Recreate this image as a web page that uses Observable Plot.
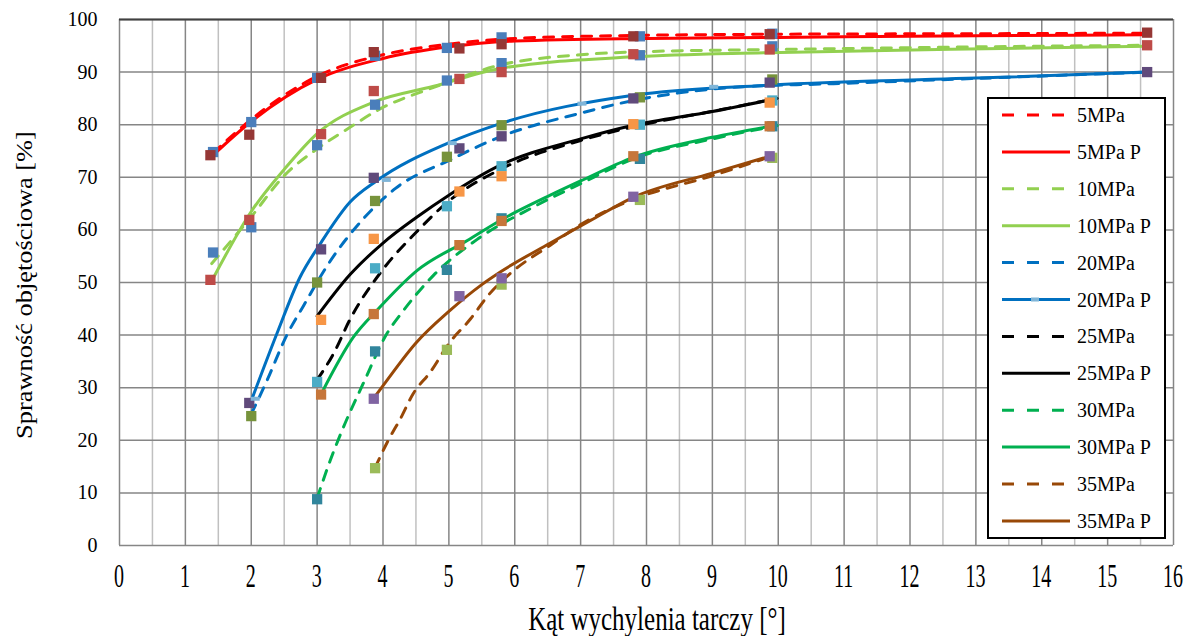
<!DOCTYPE html>
<html><head><meta charset="utf-8">
<script src="https://cdn.jsdelivr.net/npm/d3@7"></script>
<script src="https://cdn.jsdelivr.net/npm/@observablehq/plot@0.6"></script>
<style>
body{margin:0;background:#fff;}
#wrap{position:relative;width:1186px;height:636px;overflow:hidden;}
#legend{position:absolute;left:987px;top:97px;width:175px;height:438px;border:2px solid #000;background:#fff;}
</style></head><body><div id="wrap"></div>
<script>
// ---------- axes ----------
const xTicks = d3.range(0, 17, 1);
const xMinor = d3.range(0.5, 16, 1);
const yTicks = d3.range(0, 101, 10);

// ---------- series ----------
const pressures = ["5MPa", "10MPa", "20MPa", "25MPa", "30MPa", "35MPa"];
const lineColors = ["#FF0000", "#92D050", "#0070C0", "#000000", "#00B050", "#984807"];

// dashed curves (measured)
const curve5 = [[1.42,74.6],[2,81.0],[3,89.2],[4,93.3],[5,95.3],[6,96.4],[8,97.0],[10,97.2],[13,97.3],[15.6,97.4]];
const curve10 = [[1.4,53.6],[2,62.5],[2.5,70.3],[3,75.4],[3.5,79.5],[3.91,82.7],[4.77,87.1],[5.8,91.4],[7,93.3],[8,93.9],[10,94.3],[13,94.8],[15.6,95.1]];
const curve20 = [[2.0,25],[2.24,31.4],[2.54,40],[2.79,45.5],[3.19,53.9],[3.7,62.1],[4.19,67.9],[5.0,73.2],[5.8,77.8],[7.0,82.2],[7.8,84.6],[9.32,87.1],[10.84,87.8],[15.6,90]];
const curve25 = [[3.0,31.5],[3.25,36.5],[3.5,43],[4.0,52.5],[4.5,59.5],[5.0,65.5],[5.78,71.5],[7.0,77],[7.8,79.6],[9.07,82.7],[9.98,85]];
const curve30 = [[3.0,9],[3.2,16.2],[3.4,22.5],[3.7,30.8],[4.06,40.3],[4.3,44.5],[4.77,51.4],[5.43,58.2],[6.29,64.4],[7.0,68.8],[7.8,73.5],[9.0,77.3],[9.98,79.8]];
const curve35 = [[3.88,14.8],[4.08,20],[4.26,24],[4.46,28.9],[4.72,33],[5.0,38.4],[5.33,43.1],[5.6,47.6],[5.93,51.7],[6.54,57.1],[7.0,61],[7.8,65.8],[9.0,70.3],[9.9,74]];

// solid curves ("P")
const curve5P = [[1.42,74.2],[2,80.6],[3,88.6],[4,92.6],[5,94.8],[6,95.9],[8,96.4],[10,96.6],[13,96.9],[15.6,97.1]];
const curve10P = [[1.43,51],[2,63.5],[2.5,71.5],[3,78.3],[3.86,84.3],[4.77,87.3],[5.78,90.7],[7.8,92.9],[9.83,93.7],[13.4,94.5],[15.6,94.9]];
const curve20P = [[2.0,27.5],[2.39,40.3],[2.74,51],[3.05,57.4],[3.5,65.3],[3.9,69.3],[4.97,76.4],[5.78,80.2],[7.8,85.6],[9.83,87.5],[13.37,89],[15.6,90]];
const curve25P = [[3.0,43.6],[3.5,51.5],[4.0,57.5],[4.5,62.3],[5.0,66.6],[5.78,72.3],[7.0,77.3],[7.8,79.9],[9.0,82.5],[9.98,85.0]];
const curve30P = [[3.07,29],[3.55,39.6],[3.93,45],[4.52,52.3],[5.28,58],[5.78,61.8],[6.54,66.6],[7.0,69.3],[7.8,73.8],[9.0,77.6],[9.98,79.9]];
const curve35P = [[3.86,28],[4.06,31.4],[4.5,38.5],[5.0,44.5],[5.5,49.6],[5.78,52],[6.54,57.5],[7.15,61.8],[7.8,66.2],[9.0,70.8],[9.87,74]];

// square markers (two measurement sets per pressure)
const m5A = [[1.42,74.8],[2.0,80.5],[3.0,88.9],[3.88,93.1],[4.97,94.6],[5.8,96.6],[7.9,96.8],[9.91,97.3]];
const m5B = [[1.38,74.2],[1.97,78.1],[3.06,88.9],[3.86,93.8],[5.16,94.5],[5.8,95.3],[7.8,96.8],[9.87,97.2],[15.6,97.5]];
const m10A = [[1.42,55.7],[2.0,60.5],[3.0,76.1],[3.88,83.8],[4.97,88.4],[5.8,91.7],[7.9,93.2],[9.91,94.9]];
const m10B = [[1.38,50.5],[1.97,61.9],[3.06,78.2],[3.86,86.4],[5.16,88.7],[5.8,90.0],[7.8,93.4],[9.87,94.3],[15.6,95.1]];
const m20A = [[2.0,24.6],[3.0,50.0],[3.88,65.5],[4.97,73.9],[5.8,79.9],[7.9,85.2],[9.91,88.6]];
const m20B = [[1.97,27.1],[3.06,56.3],[3.86,69.9],[5.16,75.5],[5.8,77.8],[7.8,85.0],[9.87,88.0],[15.6,90.0]];
const m25A = [[3.0,31.1],[3.88,52.7],[4.97,64.5],[5.8,72.1],[7.9,80.0],[9.91,84.6]];
const m25B = [[3.06,42.9],[3.86,58.3],[5.16,67.3],[5.8,70.2],[7.8,80.1],[9.87,84.2]];
const m30A = [[3.0,8.8],[3.88,36.9],[4.97,52.4],[5.8,62.2],[7.9,73.5],[9.91,79.7]];
const m30B = [[3.06,28.7],[3.86,44.0],[5.16,57.1],[5.8,61.7],[7.8,74.0],[9.87,79.7]];
const m35A = [[3.88,14.7],[4.97,37.2],[5.8,49.6],[7.9,65.7],[9.91,73.7]];
const m35B = [[3.86,27.9],[5.16,47.4],[5.8,50.8],[7.8,66.3],[9.87,74.0]];
const m20P = [[2.06,27.9],[4.05,69.5],[5.05,76.5],[7.02,84.0],[9.02,87.2]];

const markerSets = [m5A, m5B, m10A, m10B, m20A, m20B, m25A, m25B, m30A, m30B, m35A, m35B];
const markerColors = ["#4A7EBB","#953735","#4A7EBB","#BE4B48","#77933C","#604A7B","#4BACC6","#F79646","#31859C","#C6763A","#9BBB59","#8064A2"];

const dashedCurves = [curve5, curve10, curve20, curve25, curve30, curve35];
const solidCurves = [curve5P, curve10P, curve20P, curve25P, curve30P, curve35P];

const FONT = "'Liberation Serif', 'Times New Roman', serif";
const dashSym = {draw(ctx, size) { ctx.rect(-4.5, -2, 9, 4); }};

const lineMarks = [];
pressures.forEach((p, i) => {
  lineMarks.push(Plot.line(dashedCurves[i], {x: d => d[0], y: d => d[1], stroke: lineColors[i], strokeWidth: 3, strokeDasharray: "10,9", strokeLinecap: "round", curve: "monotone-x"}));
  lineMarks.push(Plot.line(solidCurves[i], {x: d => d[0], y: d => d[1], stroke: lineColors[i], strokeWidth: 3, strokeLinecap: "round", curve: "monotone-x"}));
});

const dotMarks = markerSets.map((s, i) => Plot.dot(s, {x: d => d[0], y: d => d[1], symbol: "square", r: 5.8, fill: markerColors[i], stroke: "none"}));

const chart = Plot.plot({
  width: 1186, height: 636,
  marginLeft: 119, marginRight: 13, marginTop: 19, marginBottom: 91,
  x: {domain: [0, 16]},
  y: {domain: [0, 100]},
  style: {fontFamily: FONT, fontSize: "20px", background: "#fff", color: "#000", overflow: "visible"},
  marks: [
    Plot.gridX(xMinor, {stroke: "#C0C0C0", strokeOpacity: 1, strokeWidth: 1.5}),
    Plot.gridX(xTicks, {stroke: "#868686", strokeOpacity: 1, strokeWidth: 1.5}),
    Plot.gridY(yTicks, {stroke: "#868686", strokeOpacity: 1, strokeWidth: 1.5}),
    Plot.ruleY([100], {stroke: "#404040", strokeWidth: 2}),
    Plot.axisY(yTicks, {tickSize: 0, tickPadding: 22, fontSize: 20, label: null}),
    Plot.axisX(xTicks, {tickSize: 0, tickFormat: () => "", label: null}),
    ...lineMarks,
    ...dotMarks,
    Plot.dot(m20P, {x: d => d[0], y: d => d[1], symbol: dashSym, fill: "#7FB5D8", stroke: "none"})
  ]
});

const svg = d3.select(chart);
const sx = chart.scale("x");
// x tick labels (tall, narrow glyphs as in the reference)
const gx = svg.append("g").attr("font-family", FONT).attr("font-size", 20).attr("text-anchor", "middle");
xTicks.forEach(v => {
  gx.append("text").attr("transform", `translate(${sx.apply(v)},587) scale(1,1.65)`).text(String(v));
});
// axis titles
svg.append("text").attr("font-family", FONT).attr("font-size", 25).attr("text-anchor", "middle")
  .attr("transform", "translate(657,630) scale(1,1.35)").text("Kąt wychylenia tarczy [°]");
svg.append("text").attr("font-family", FONT).attr("font-size", 24).attr("text-anchor", "middle")
  .attr("transform", "translate(32,285) rotate(-90) scale(1.1,1)").text("Sprawność objętościowa [%]");

const wrap = document.getElementById("wrap");
wrap.appendChild(chart);

// legend
const legendLabels = pressures.flatMap(p => [p, p + " P"]);
const leg = document.createElement("div");
leg.id = "legend";
wrap.appendChild(leg);
const ls = d3.select(leg).append("svg").attr("width", 175).attr("height", 438);
legendLabels.forEach((lab, i) => {
  const c = lineColors[Math.floor(i / 2)];
  const y = 16 + i * 36.9;
  const ln = ls.append("line").attr("x1", 13).attr("x2", 81).attr("y1", y).attr("y2", y)
    .attr("stroke", c).attr("stroke-width", 3);
  if (i % 2 === 0) ln.attr("stroke-dasharray", "12,13");
  if (lab === "20MPa P") ls.append("rect").attr("x", 42).attr("y", y - 2).attr("width", 8).attr("height", 4).attr("fill", "#7FB5D8");
  ls.append("text").attr("x", 88).attr("y", y).attr("dy", "0.35em").attr("font-family", FONT)
    .attr("font-size", 20).text(lab);
});
</script></body></html>
